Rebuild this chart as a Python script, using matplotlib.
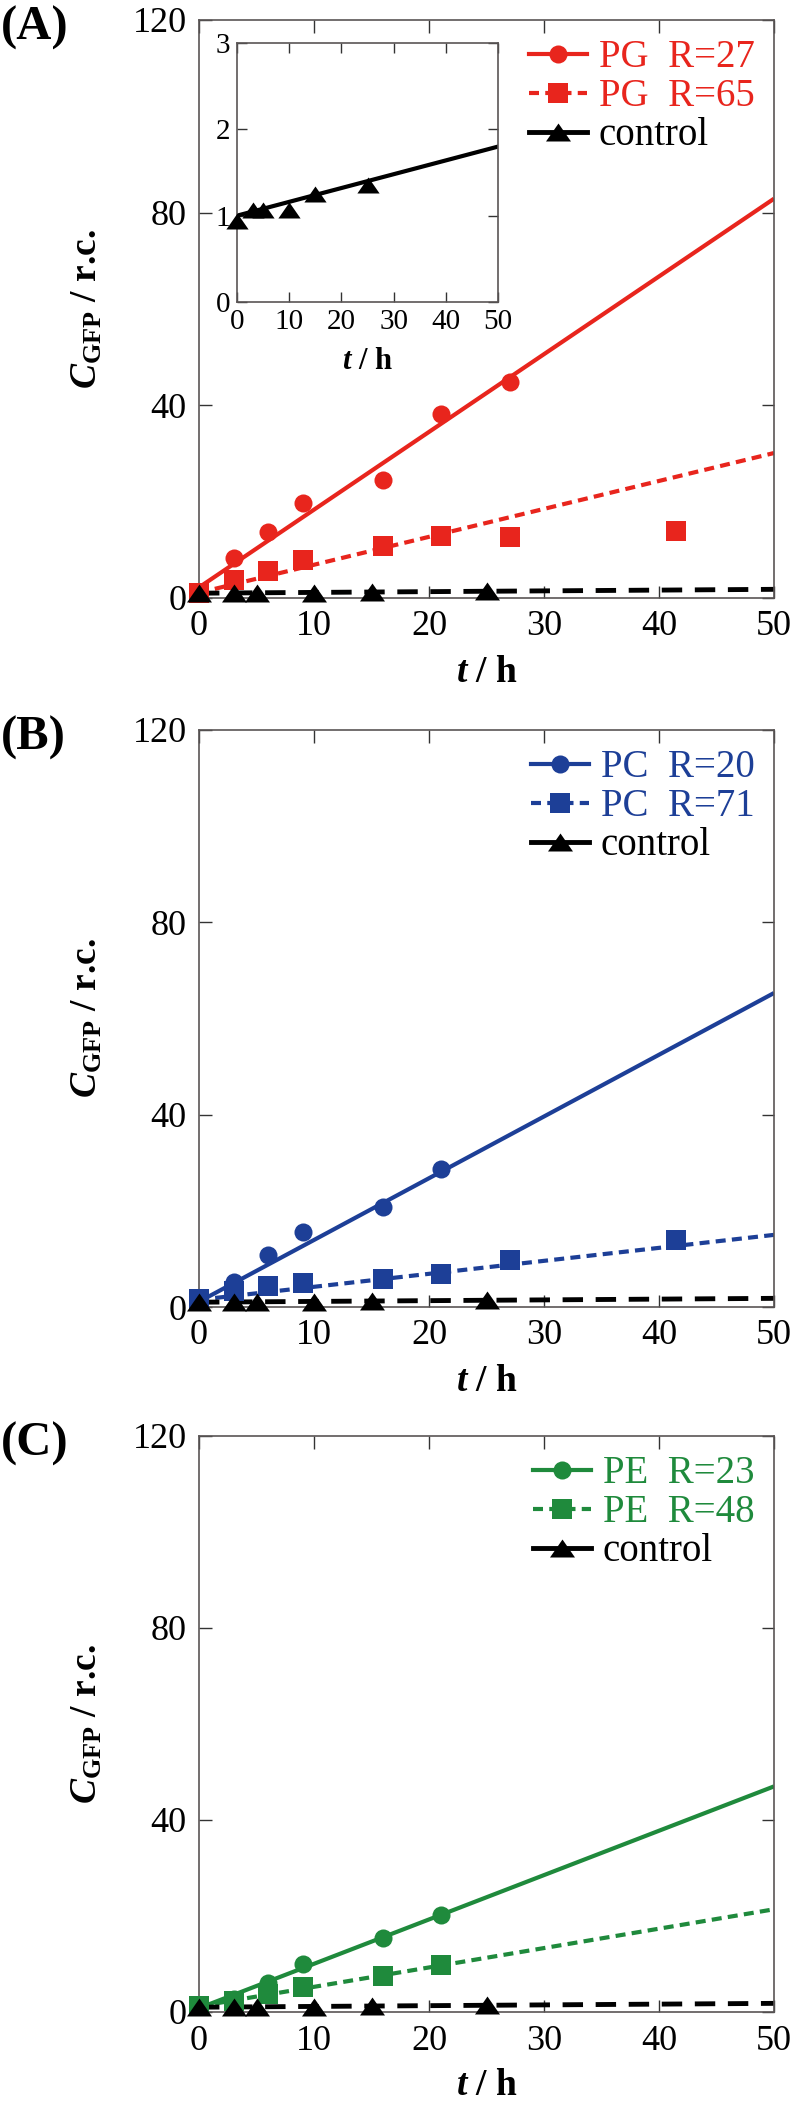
import matplotlib
matplotlib.use("Agg")
import matplotlib.pyplot as plt
from matplotlib.lines import Line2D
from matplotlib.path import Path

plt.rcParams['font.family'] = ['Liberation Serif', 'DejaVu Serif']
plt.rcParams['mathtext.fontset'] = 'custom'
plt.rcParams['mathtext.rm'] = 'Liberation Serif:bold'
plt.rcParams['mathtext.it'] = 'Liberation Serif:italic:bold'
plt.rcParams['mathtext.bf'] = 'Liberation Serif:bold'

# ---------------- data ----------------
fit_t = [0, 50]

# Panel A (PG)
t_pg27 = [0, 3, 6, 9, 16, 21, 27]
c_pg27 = [1.0, 8.3, 13.8, 19.7, 24.6, 38.3, 44.9]
fit_pg27 = [2.2, 82.9]
t_pg65 = [0, 3, 6, 9, 16, 21, 27, 41.5]
c_pg65 = [1.1, 3.8, 5.7, 7.9, 10.8, 12.8, 12.7, 14.0]
fit_pg65 = [1.1, 30.1]

# Control (shared)
t_ctrl = [0, 3, 5, 10, 15, 25]
c_ctrl = [0.94, 1.06, 1.06, 1.07, 1.25, 1.36]
fit_ctrl = [1.0, 1.8]

# Panel B (PC)
t_pc20 = [0, 3, 6, 9, 16, 21]
c_pc20 = [1.5, 5.3, 10.8, 15.6, 20.9, 28.6]
fit_pc20 = [1.1, 65.3]
t_pc71 = [0, 3, 6, 9, 16, 21, 27, 41.5]
c_pc71 = [1.6, 3.4, 4.4, 5.0, 5.8, 6.9, 9.7, 14.0]
fit_pc71 = [1.5, 15.0]

# Panel C (PE)
t_pe23 = [0, 3, 6, 9, 16, 21]
c_pe23 = [1.2, 2.8, 6.0, 10.0, 15.4, 20.2]
fit_pe23 = [0.8, 47.0]
t_pe48 = [0, 3, 6, 9, 16, 21]
c_pe48 = [1.2, 2.2, 3.8, 5.3, 7.4, 9.7]
fit_pe48 = [1.2, 21.4]

x_ticks = [0, 10, 20, 30, 40, 50]
y_ticks = [0, 40, 80, 120]
inset_y_ticks = [0, 1, 2, 3]

RED = '#e8251d'
BLUE = '#1d3f97'
GREEN = '#1f8a3c'
SPINE = '#5a5555'

tri = Path([(-1, -0.72), (1, -0.72), (0, 0.72), (-1, -0.72)],
           [Path.MOVETO, Path.LINETO, Path.LINETO, Path.CLOSEPOLY])

fig = plt.figure(figsize=(7.97, 21.05), dpi=100)
W, H = 797.0, 2105.0


def make_axes(left, top, right, bottom):
    return fig.add_axes([left / W, 1 - bottom / H, (right - left) / W, (bottom - top) / H])


def style_axes(ax, labsize=26, ticklen=9, pad=9):
    for s in ax.spines.values():
        s.set_color(SPINE)
        s.set_linewidth(1.2)
    ax.tick_params(direction='in', top=True, right=True, length=ticklen, width=1.0,
                   color='#333333', labelsize=labsize, pad=pad)


def panel(top, bottom, label, s1, s2, color, lab1, lab2):
    ax = make_axes(199, top, 774, bottom)
    style_axes(ax)
    (t1, c1, f1), (t2, c2, f2) = s1, s2
    ax.plot(fit_t, f1, color=color, lw=3.0, solid_capstyle='butt', zorder=2)
    ax.plot(fit_t, f2, color=color, lw=3.0, dashes=(2.4, 1.5), zorder=2)
    ax.plot(fit_t, fit_ctrl, color='black', lw=3.5, dashes=(4.2, 2.6), zorder=2)
    ax.plot(t1, c1, 'o', color=color, ms=13, mew=0, clip_on=False, zorder=4)
    ax.plot(t2, c2, 's', color=color, ms=14, mew=0, clip_on=False, zorder=4)
    ax.plot(t_ctrl, c_ctrl, marker=tri, ls='none', color='black', ms=18, mew=0,
            clip_on=False, zorder=5)
    ax.set_xlim(0, 50)
    ax.set_ylim(0, 120)
    ax.set_xticks(x_ticks)
    ax.set_yticks(y_ticks)
    ax.set_xlabel(r'$t$ / h', fontsize=27, fontweight='bold')
    ax.set_ylabel(r'$C_{\mathbf{GFP}}$ / r.c.', fontsize=27, fontweight='bold')
    ax.xaxis.set_label_coords(0.5, -0.098)
    ax.yaxis.set_label_coords(-0.165, 0.5)
    handles = [
        Line2D([], [], color=color, lw=3.0, marker='o', ms=13, mew=0),
        Line2D([], [], color=color, lw=3.0, dashes=(2.4, 1.5), marker='s', ms=14, mew=0),
        Line2D([], [], color='black', lw=3.5, marker=tri, ms=18, mew=0),
    ]
    leg = ax.legend(handles, [lab1, lab2, 'control'], loc='upper right', frameon=False,
                    fontsize=28, handlelength=1.5, handletextpad=0.3, labelspacing=0.05,
                    borderaxespad=0.3, borderpad=0.2)
    for txt, c in zip(leg.get_texts(), [color, color, 'black']):
        txt.set_color(c)
    fig.text(1 / W, 1 - (top + 8) / H, label, fontsize=35, fontweight='bold',
             ha='left', va='center')
    return ax


axA = panel(20, 598, '(A)', (t_pg27, c_pg27, fit_pg27), (t_pg65, c_pg65, fit_pg65),
            RED, 'PG  R=27', 'PG  R=65')
axB = panel(730, 1307, '(B)', (t_pc20, c_pc20, fit_pc20), (t_pc71, c_pc71, fit_pc71),
            BLUE, 'PC  R=20', 'PC  R=71')
axC = panel(1436, 2012, '(C)', (t_pe23, c_pe23, fit_pe23), (t_pe48, c_pe48, fit_pe48),
            GREEN, 'PE  R=23', 'PE  R=48')

# Inset in panel A
ins = make_axes(237, 43, 498, 302)
style_axes(ins, labsize=21, ticklen=7, pad=5)
ins.plot(fit_t, fit_ctrl, color='black', lw=3.0, zorder=2)
ins.plot(t_ctrl, c_ctrl, marker=tri, ls='none', color='black', ms=16, mew=0,
         clip_on=False, zorder=4)
ins.set_xlim(0, 50)
ins.set_ylim(0, 3)
ins.set_xticks(x_ticks)
ins.set_yticks(inset_y_ticks)
ins.set_xlabel(r'$t$ / h', fontsize=22, fontweight='bold', labelpad=0)
ins.xaxis.set_label_coords(0.5, -0.175)

fig.savefig('out.png', dpi=100)
